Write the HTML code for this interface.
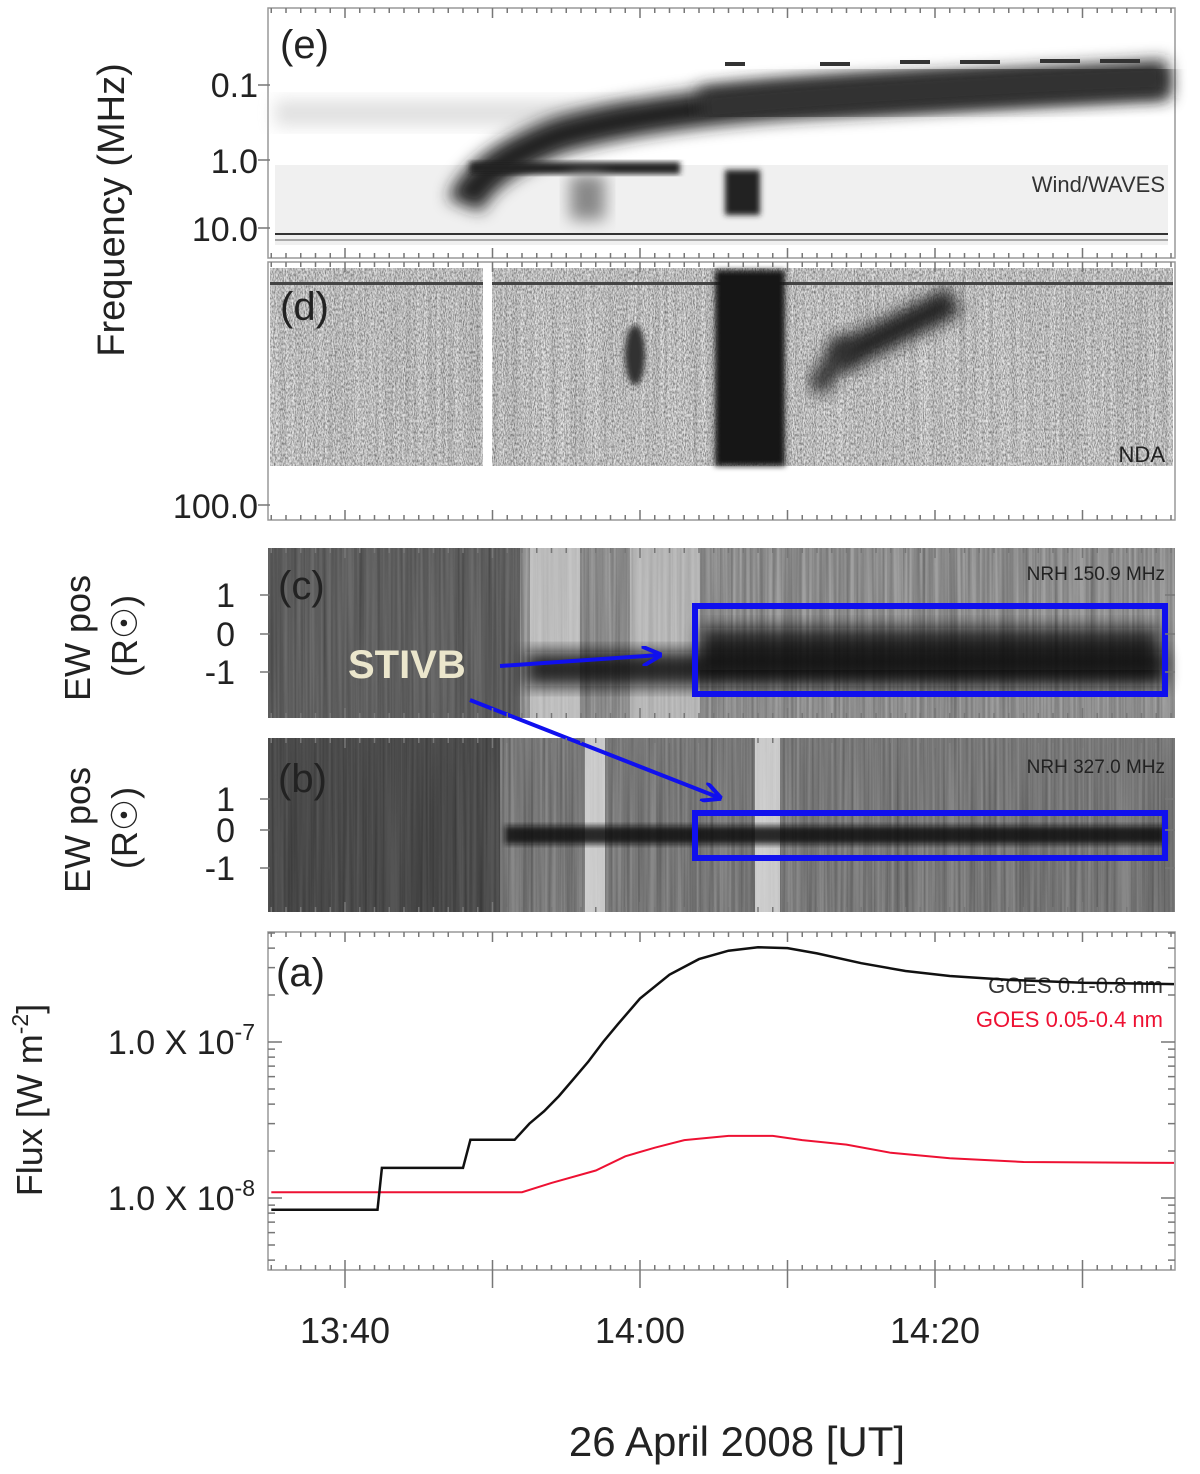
<!DOCTYPE html>
<html><head><meta charset="utf-8"><style>
html,body{margin:0;padding:0;background:#fff;}
svg{display:block;font-family:"Liberation Sans",sans-serif;}
</style></head><body>
<svg id="fig" width="1200" height="1474" viewBox="0 0 1200 1474">
<defs>
<filter id="b3" x="-20%" y="-20%" width="140%" height="140%"><feGaussianBlur stdDeviation="3"/></filter>
<filter id="b8" x="-30%" y="-30%" width="160%" height="160%"><feGaussianBlur stdDeviation="8"/></filter>
<filter id="b14" x="-30%" y="-50%" width="160%" height="200%"><feGaussianBlur stdDeviation="14"/></filter>
<filter id="noise" x="0" y="0" width="100%" height="100%">
<feTurbulence type="fractalNoise" baseFrequency="0.9 0.35" numOctaves="2" seed="3"/>
<feColorMatrix type="matrix" values="0 0 0 0 0  0 0 0 0 0  0 0 0 0 0  1.6 0 0 0 -0.55"/>
</filter>
<filter id="vstripe" x="0" y="0" width="100%" height="100%">
<feTurbulence type="fractalNoise" baseFrequency="0.35 0.004" numOctaves="2" seed="7"/>
<feColorMatrix type="matrix" values="0 0 0 0 0  0 0 0 0 0  0 0 0 0 0  0.9 0 0 0 -0.25"/>
</filter>
<marker id="arr" viewBox="0 0 10 10" refX="9" refY="5" markerWidth="5" markerHeight="5" orient="auto"><path d="M0,0 L10,5 L0,10" fill="none" stroke="#1010ee" stroke-width="2"/></marker>
</defs>

<!-- Panel e -->
<g>
<rect x="268" y="8" width="907" height="250" fill="#fff" stroke="#999" stroke-width="1.5"/>
<rect x="275" y="28" width="893" height="217" fill="#fff"/>
<rect x="275" y="100" width="360" height="26" fill="#ccc" filter="url(#b8)" opacity="0.6"/>
<rect x="275" y="165" width="893" height="80" fill="#f0f0f0"/>
<path d="M465,205 Q480,165 560,135 Q650,110 800,100 Q1000,88 1168,78" fill="none" stroke="#222" stroke-width="36" filter="url(#b8)"/>
<path d="M700,108 Q900,88 1168,78" fill="none" stroke="#333" stroke-width="40" filter="url(#b8)"/>
<rect x="470" y="162" width="210" height="12" fill="#222" filter="url(#b3)"/>
<rect x="725" y="170" width="35" height="45" fill="#222" filter="url(#b3)"/>
<rect x="570" y="175" width="35" height="45" fill="#888" filter="url(#b8)"/>
<line x1="275" y1="234" x2="1168" y2="234" stroke="#333" stroke-width="2"/>
<line x1="275" y1="240" x2="1168" y2="240" stroke="#aaa" stroke-width="2"/>
<g fill="#333"><rect x="725" y="62" width="20" height="4"/><rect x="820" y="62" width="30" height="4"/><rect x="900" y="60" width="30" height="4"/><rect x="960" y="60" width="40" height="4"/><rect x="1040" y="59" width="40" height="4"/><rect x="1100" y="59" width="40" height="4"/></g>
<text x="280" y="58" font-size="40" fill="#222">(e)</text>
<text x="1165" y="192" font-size="22" fill="#333" text-anchor="end">Wind/WAVES</text>
</g>

<!-- Panel d -->
<g>
<rect x="268" y="262" width="907" height="258" fill="#fff" stroke="#999" stroke-width="1.5"/>
<rect x="270" y="268" width="903" height="198" fill="#e8e8e8"/>
<rect x="270" y="268" width="903" height="198" filter="url(#noise)" opacity="0.6"/>
<rect x="270" y="268" width="903" height="198" filter="url(#vstripe)" opacity="0.3"/>
<rect x="270" y="282" width="903" height="3" fill="#444"/>
<rect x="715" y="270" width="70" height="196" fill="#151515" filter="url(#b3)"/>
<path d="M835,360 L955,300" stroke="#222" stroke-width="30" filter="url(#b8)"/>
<path d="M815,390 L850,340" stroke="#333" stroke-width="22" filter="url(#b8)"/>
<ellipse cx="635" cy="355" rx="10" ry="30" fill="#333" filter="url(#b3)"/>
<rect x="483" y="266" width="9" height="202" fill="#fff"/>
<text x="280" y="320" font-size="40" fill="#222">(d)</text>
<text x="1165" y="462" font-size="22" fill="#222" text-anchor="end">NDA</text>
</g>

<!-- Panel c -->
<g>
<rect x="268" y="548" width="907" height="170" fill="#6a6a6a"/>
<rect x="520" y="548" width="655" height="170" fill="#a0a0a0"/>
<rect x="268" y="548" width="907" height="170" filter="url(#vstripe)" opacity="0.6"/>
<rect x="530" y="548" width="50" height="170" fill="#ddd" opacity="0.6"/>
<rect x="630" y="548" width="70" height="170" fill="#ddd" opacity="0.5"/>
<rect x="525" y="652" width="640" height="34" fill="#111" filter="url(#b8)" opacity="0.85"/>
<rect x="700" y="628" width="460" height="42" fill="#111" filter="url(#b8)" opacity="0.8"/>
<rect x="695" y="606" width="470" height="88" fill="none" stroke="#1010ee" stroke-width="6"/>
<text x="278" y="599" font-size="40" fill="#222">(c)</text>
<text x="1165" y="580" font-size="19" fill="#222" text-anchor="end">NRH 150.9 MHz</text>
</g>

<!-- Panel b -->
<g>
<rect x="268" y="738" width="907" height="174" fill="#555"/>
<rect x="500" y="738" width="675" height="174" fill="#888"/>
<rect x="268" y="738" width="907" height="174" filter="url(#vstripe)" opacity="0.6"/>
<rect x="585" y="738" width="20" height="174" fill="#eee" opacity="0.7"/>
<rect x="755" y="738" width="25" height="174" fill="#eee" opacity="0.7"/>
<rect x="505" y="826" width="660" height="18" fill="#111" filter="url(#b3)" opacity="0.85"/>
<rect x="695" y="813" width="470" height="45" fill="none" stroke="#1010ee" stroke-width="6"/>
<text x="278" y="792" font-size="40" fill="#222">(b)</text>
<text x="1165" y="773" font-size="19" fill="#222" text-anchor="end">NRH 327.0 MHz</text>
</g>

<!-- STIVB annotation -->
<text x="348" y="678" font-size="40" font-weight="bold" fill="#ebe6cc">STIVB</text>
<line x1="500" y1="666" x2="660" y2="655" stroke="#1010ee" stroke-width="4" marker-end="url(#arr)"/>
<line x1="470" y1="700" x2="720" y2="798" stroke="#1010ee" stroke-width="4" marker-end="url(#arr)"/>

<!-- Panel a -->
<g id="panelA">
<rect x="268" y="932" width="907" height="338" fill="#fff" stroke="#999" stroke-width="1.5"/>
<text x="276" y="986" font-size="40" fill="#222">(a)</text>
<text x="1163" y="993" font-size="22" fill="#333" text-anchor="end">GOES 0.1-0.8 nm</text>
<text x="1163" y="1027" font-size="22" fill="#ee1133" text-anchor="end">GOES 0.05-0.4 nm</text>
</g>

<g id="ticks"></g>

<!-- y labels -->
<text transform="translate(124,210) rotate(-90)" font-size="38" fill="#222" text-anchor="middle">Frequency (MHz)</text>
<g font-size="34" fill="#222" text-anchor="end">
<text x="258" y="97">0.1</text>
<text x="258" y="173">1.0</text>
<text x="258" y="241">10.0</text>
<text x="258" y="518">100.0</text>
<text x="235" y="607">1</text>
<text x="235" y="646">0</text>
<text x="235" y="684">-1</text>
<text x="235" y="811">1</text>
<text x="235" y="842">0</text>
<text x="235" y="880">-1</text>
<text x="255" y="1054">1.0 X 10<tspan font-size="23" dy="-14">-7</tspan></text>
<text x="255" y="1210">1.0 X 10<tspan font-size="23" dy="-14">-8</tspan></text>
</g>
<g font-size="36" fill="#222" text-anchor="middle">
<text transform="translate(90,638) rotate(-90)">EW pos</text>
<text transform="translate(137,636) rotate(-90)">(R☉)</text>
<text transform="translate(90,830) rotate(-90)">EW pos</text>
<text transform="translate(137,828) rotate(-90)">(R☉)</text>
<text transform="translate(42,1100) rotate(-90)">Flux [W m<tspan font-size="23" dy="-14">-2</tspan><tspan dy="14">]</tspan></text>
</g>
<g font-size="36" fill="#222" text-anchor="middle" id="xlabels"></g>
<text x="737" y="1456" font-size="42" fill="#222" text-anchor="middle">26 April 2008 [UT]</text>
</svg>
<script>
// minutes after 13:00
const blackT = [35,42.2,42.5,48,48.5,51.5,52.5,53.5,54.5,55.5,56.5,57.5,58.5,60,62,64,66,68,70,72,75,78,81,85,90,96.5];
const blackV = [8.4e-9,8.4e-9,1.56e-8,1.56e-8,2.36e-8,2.36e-8,3.0e-8,3.6e-8,4.5e-8,5.8e-8,7.5e-8,1.0e-7,1.3e-7,1.9e-7,2.7e-7,3.4e-7,3.85e-7,4.05e-7,4.0e-7,3.7e-7,3.2e-7,2.85e-7,2.65e-7,2.5e-7,2.4e-7,2.35e-7];
const redT = [35,52,54,57,59,61,63,66,69,71,74,77,81,86,96.5];
const redV = [1.09e-8,1.09e-8,1.25e-8,1.5e-8,1.85e-8,2.1e-8,2.35e-8,2.5e-8,2.5e-8,2.35e-8,2.2e-8,1.95e-8,1.8e-8,1.7e-8,1.68e-8];
const xTickLabels = ["13:40","14:00","14:20"];
const xTickMinutes = [40,60,80];

const NS='http://www.w3.org/2000/svg';
function xs(t){return 345+(t-40)*14.75;}
function ys(v){return 1042-(Math.log10(v)+7)*156;}
function clampX(t){return Math.max(269,Math.min(1174,xs(t)));}
const pa=document.getElementById('panelA');
function line(T,V,color,name,w){
  const p=document.createElementNS(NS,'polyline');
  p.setAttribute('points',T.map((t,i)=>clampX(t).toFixed(1)+','+ys(V[i]).toFixed(1)).join(' '));
  p.setAttribute('fill','none');p.setAttribute('stroke',color);p.setAttribute('stroke-width',w);
  
  
  pa.appendChild(p);
}
line(redT,redV,'#ee1133','goes-short-line',2);
line(blackT,blackV,'#111','goes-long-line',2.5);

// ticks
const tg=document.getElementById('ticks');
let d='';
const bands=[[8,258],[262,520],[548,718],[738,912],[932,1270]];
for(let t=35;t<=96;t++){
  const x=xs(t); if(x<268||x>1175)continue;
  const major=(t%10===0);
  bands.forEach(([a,b])=>{d+=`M${x},${a}v${major?10:5}M${x},${b}v${major?-10:-5}`;});
  if(major) d+=`M${x},1270v18`;
}
for(let e=-9;e<=-6;e++){for(let m=1;m<10;m++){const y=ys(m*Math.pow(10,e));if(y<932||y>1270)continue;const L=m===1?14:7;d+=`M268,${y}h${L}M1175,${y}h${-L}`;}}
[85,160,228,505].forEach(y=>{d+=`M258,${y}h12`;});
[595,634,672,799,830,868].forEach(y=>{d+=`M260,${y}h10M1175,${y}h-10`;});
const tp=document.createElementNS(NS,'path');
tp.setAttribute('d',d);tp.setAttribute('stroke','#777');tp.setAttribute('stroke-width','1.5');tp.setAttribute('fill','none');


tg.appendChild(tp);

const xl=document.getElementById('xlabels');
xTickLabels.forEach((s,i)=>{
  const t=document.createElementNS(NS,'text');
  t.setAttribute('x',xs(xTickMinutes[i]));t.setAttribute('y',1343);t.textContent=s;
  
  
  xl.appendChild(t);
});
</script>
</body></html>
